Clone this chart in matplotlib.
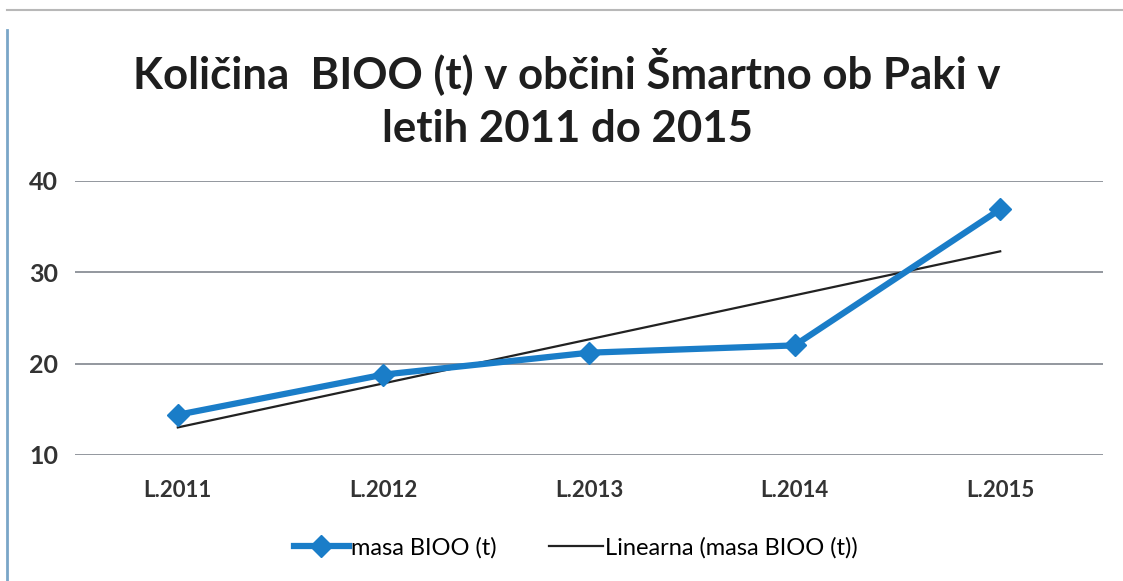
import numpy as np
import matplotlib
matplotlib.use("Agg")
import matplotlib.pyplot as plt
from matplotlib.lines import Line2D

categories = ["L.2011", "L.2012", "L.2013", "L.2014", "L.2015"]
masa_bioo = [14.4, 18.8, 21.2, 22.0, 36.9]
y_ticks = [10, 20, 30, 40]
title = "Količina  BIOO (t) v občini Šmartno ob Paki v\nletih 2011 do 2015"
series_label = "masa BIOO (t)"
trend_label = "Linearna (masa BIOO (t))"

plt.rcParams['font.family'] = ['Lato', 'DejaVu Sans']

fig = plt.figure(figsize=(11.23, 5.81), dpi=100)
ax = fig.add_axes([75/1123, 1-455/581, (1103-75)/1123, (455-181)/581])

x = np.arange(len(categories))
coef = np.polyfit(x, masa_bioo, 1)
trend = np.polyval(coef, x)

blue = "#1a7dc8"
ax.plot(x, trend, color="#222222", lw=1.6, zorder=3)
ax.plot(x, masa_bioo, color=blue, lw=4.5, marker="D", markersize=11, zorder=4)

ax.set_xlim(-0.5, len(categories) - 0.5)
ax.set_ylim(10, 40)
ax.set_yticks(y_ticks)
ax.set_xticks(x)
ax.set_xticklabels(categories, fontsize=16, fontweight="bold", color="#333333")
ax.set_yticklabels([str(v) for v in y_ticks], fontsize=18, fontweight="bold", color="#333333")
ax.tick_params(axis="both", length=0)
ax.tick_params(axis="x", pad=18)
ax.tick_params(axis="y", pad=12)
ax.yaxis.grid(True, color="#8a8f96", lw=1.3)
ax.set_axisbelow(True)
for s in ax.spines.values():
    s.set_visible(False)

fig.text(0.505, 1-98/581, title, ha="center", va="center", fontsize=31.5,
         fontweight="bold", color="#1e1e1e", linespacing=1.42)

handles = [Line2D([0], [0], color=blue, lw=4.5, marker="D", markersize=11),
           Line2D([0], [0], color="#222222", lw=1.6)]
fig.legend(handles, [series_label, trend_label], loc="center",
           bbox_to_anchor=(0.513, 1-548/581), ncol=2, frameon=False,
           fontsize=17, handlelength=2.3, handletextpad=0.1, columnspacing=2.2)

# chart border
fig.add_artist(Line2D([7/1123, 7/1123], [0, 1-30/581], transform=fig.transFigure,
                      color="#7aa6c8", lw=2))
fig.add_artist(Line2D([7/1123, 1], [1-10/581, 1-10/581], transform=fig.transFigure,
                      color="#b8b8b8", lw=1.5))

fig.savefig("out.png", dpi=100, facecolor="white")
